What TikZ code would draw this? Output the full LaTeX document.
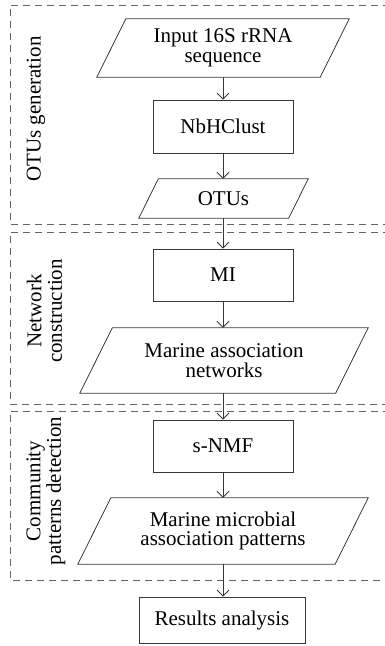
\documentclass[tikz,border=0pt]{standalone}
\usepackage{fontspec}
\setmainfont{Liberation Serif}
\usetikzlibrary{arrows.meta}
\tikzset{
  stage/.style={draw={rgb,255:red,100;green,100;blue,100}, line width=1pt, dash pattern=on 7pt off 5pt},
  procbox/.style={draw={rgb,255:red,55;green,55;blue,55}, line width=0.8pt, inner sep=0pt, align=center,
    font=\fontsize{21}{19.5}\selectfont},
  parabox/.style={inner sep=0pt, align=center, font=\fontsize{21}{19.5}\selectfont},
  paraline/.style={draw={rgb,255:red,55;green,55;blue,55}, line width=0.8pt},
  flow/.style={draw={rgb,255:red,55;green,55;blue,55}, line width=0.8pt, -{Straight Barb[length=6pt,width=12pt]}},
  sidelabel/.style={rotate=90, inner sep=0pt, align=center, font=\fontsize{21}{20.5}\selectfont}
}
\newcommand\drawpara[2]{\draw[paraline] (#1.south west) -- ([xshift=-#2]#1.south east) -- (#1.north east) -- ([xshift=#2]#1.north west) -- cycle;}
\begin{document}
\begin{tikzpicture}[x=1pt,y=-1pt]
\useasboundingbox (0,0) rectangle (385,646);
% stage boxes
\draw[stage] (390,5) -- (10,5) -- (10,224) -- (390,224);
\draw[stage] (390,232) -- (10,232) -- (10,404) -- (390,404);
\draw[stage] (390,411) -- (10,411) -- (10,580) -- (390,580);
% side labels
\node[sidelabel] (l1) at (36,109) {OTUs generation};
\node[sidelabel] (l2) at (44.5,311) {Network\\construction};
\node[sidelabel] (l3) at (46,491) {Community\\patterns detection};
% nodes
\node[parabox, minimum width=252pt, minimum height=58pt] (in) at (223,48) {Input 16S rRNA\\sequence};
\drawpara{in}{29pt}
\node[procbox, minimum width=140pt, minimum height=53pt] (nb) at (223,126.5) {NbHClust};
\node[parabox, minimum width=169pt, minimum height=39pt] (otu) at (223.5,198.5) {OTUs};
\drawpara{otu}{19.5pt}
\node[procbox, minimum width=140pt, minimum height=52pt] (mi) at (223,275) {MI};
\node[parabox, minimum width=288pt, minimum height=65pt] (man) at (224,360.5) {Marine association\\networks};
\drawpara{man}{32.5pt}
\node[procbox, minimum width=140pt, minimum height=52pt] (nmf) at (223,446) {s-NMF};
\node[parabox, minimum width=290pt, minimum height=66pt] (map) at (223,531) {Marine microbial\\association patterns};
\drawpara{map}{33pt}
\node[procbox, minimum width=166pt, minimum height=46pt] (res) at (222,620) {Results analysis};
% connectors
\draw[flow] (in.south) -- (nb.north);
\draw[flow] (nb.south) -- (otu.north -| nb.south);
\draw[flow] (otu.south -| nb.south) -- (mi.north);
\draw[flow] (mi.south) -- (man.north -| mi.south);
\draw[flow] (man.south -| mi.south) -- (nmf.north);
\draw[flow] (nmf.south) -- (map.north);
\draw[flow] (map.south) -- (res.north -| map.south);
\end{tikzpicture}
\end{document}
